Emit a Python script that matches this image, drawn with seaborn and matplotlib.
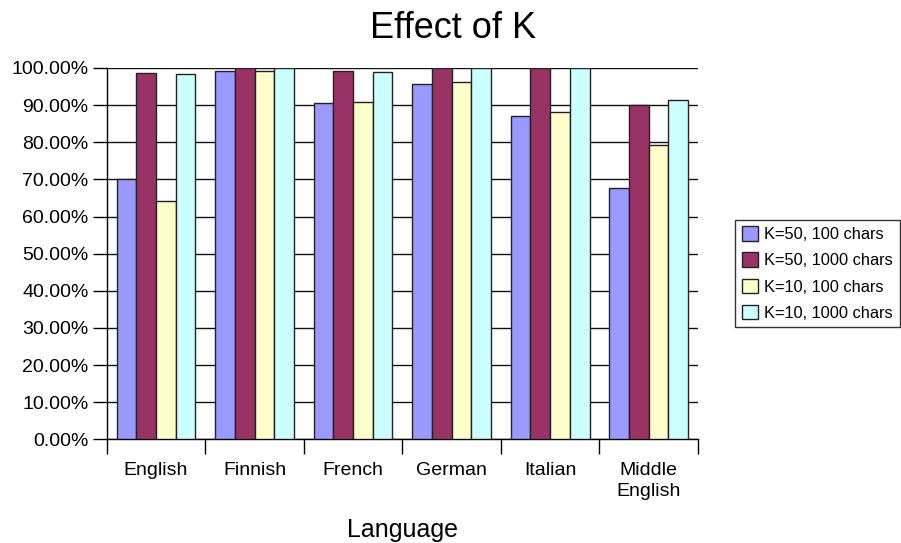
import numpy as np
import pandas as pd
import matplotlib
matplotlib.use("Agg")
import matplotlib.pyplot as plt
import seaborn as sns
from matplotlib.ticker import FuncFormatter, FixedLocator

sns.set_theme(style="white")
plt.rcParams['font.family'] = ['Liberation Sans', 'DejaVu Sans']
plt.rcParams['text.color'] = 'black'
plt.rcParams['xtick.color'] = 'black'
plt.rcParams['ytick.color'] = 'black'
plt.rcParams['axes.labelcolor'] = 'black'

languages = ["English", "Finnish", "French", "German", "Italian", "Middle\nEnglish"]
series_names = ["K=50, 100 chars", "K=50, 1000 chars", "K=10, 100 chars", "K=10, 1000 chars"]
k50_100 = [70.0, 99.3, 90.5, 95.6, 87.1, 67.7]
k50_1000 = [98.7, 100.0, 99.3, 100.0, 100.0, 90.0]
k10_100 = [64.2, 99.2, 90.9, 96.1, 88.2, 79.3]
k10_1000 = [98.3, 100.0, 99.0, 100.0, 100.0, 91.5]
colors = ["#9999FF", "#993366", "#FFFFCC", "#CCFFFF"]

rows = []
for name, vals in zip(series_names, [k50_100, k50_1000, k10_100, k10_1000]):
    for lang, v in zip(languages, vals):
        rows.append({"Language": lang, "Series": name, "Value": v})
df = pd.DataFrame(rows)

fig = plt.figure(figsize=(9.01, 5.43), dpi=100)
ax = fig.add_axes([106.7/901, 1 - 439.3/543, (698 - 106.7)/901, (439.3 - 68)/543])

sns.barplot(data=df, x="Language", y="Value", hue="Series", palette=colors,
            hue_order=series_names, order=languages, width=0.8, saturation=1,
            edgecolor="#222222", linewidth=1.0, ax=ax, zorder=3)

ax.set_ylim(0, 100)
ax.set_xlim(-0.5, len(languages) - 0.5)
ax.set_yticks(np.arange(0, 101, 10))
ax.yaxis.set_major_formatter(FuncFormatter(lambda v, p: f"{v:.2f}%"))
ax.yaxis.grid(True, color="#111111", linewidth=1.0, zorder=0)
ax.set_axisbelow(True)

for s in ["top", "right"]:
    ax.spines[s].set_visible(False)
for s in ["left", "bottom"]:
    ax.spines[s].set_color("black")
    ax.spines[s].set_linewidth(1.0)

ax.tick_params(axis="y", which="major", direction="out", length=10, width=1,
               color="black", labelsize=14, pad=3, left=True, labelcolor="black")
ax.tick_params(axis="x", which="major", length=0, labelsize=14, pad=16, labelcolor="black")
ax.xaxis.set_minor_locator(FixedLocator(np.arange(-0.5, len(languages), 1.0)))
ax.tick_params(axis="x", which="minor", direction="out", length=11, width=1,
               color="black", bottom=True)
for lbl in ax.get_xticklabels():
    lbl.set_linespacing(1.35)

ax.set_ylabel("")
ax.set_xlabel("Language", fontsize=18, color="black", va="center")
ax.xaxis.set_label_coords(0.5, (439.3 - 530) / (439.3 - 68))

fig.suptitle("Effect of K", x=0.503, y=0.98, fontsize=26, va="top", color="black")

leg = ax.legend(loc="center left", bbox_to_anchor=(735/901, 1 - 273.5/543),
                bbox_transform=fig.transFigure, fontsize=11.8, frameon=True,
                fancybox=False, edgecolor="black", handlelength=1.0,
                handleheight=1.0, handletextpad=0.4, borderpad=0.4,
                labelspacing=0.62, borderaxespad=0)
leg.get_frame().set_linewidth(1.0)
for t in leg.get_texts():
    t.set_color("black")

fig.savefig("out.png", dpi=100, facecolor="white")
